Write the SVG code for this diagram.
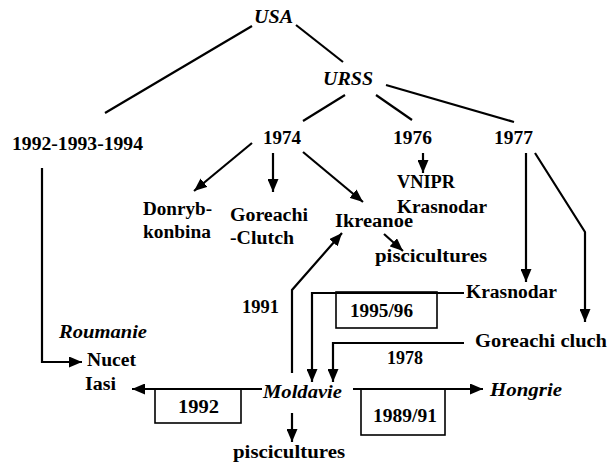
<svg xmlns="http://www.w3.org/2000/svg" width="609" height="466" viewBox="0 0 609 466" font-family="Liberation Serif, DejaVu Serif, serif">
<style>
text{font-family:'Liberation Serif','DejaVu Serif',serif;font-weight:700;font-size:18px;fill:#000}
.i{font-style:italic}
.c{fill:none;stroke:#000;stroke-width:2.2}
.b{fill:none;stroke:#000;stroke-width:1.6}
.a{marker-end:url(#ah)}
</style>
<defs>
<marker id="ah" markerUnits="userSpaceOnUse" markerWidth="13" markerHeight="11" refX="13" refY="5.5" orient="auto">
<path d="M0,0 L13,5.5 L0,11 z" fill="#000"/>
</marker>
</defs>
<rect width="609" height="466" fill="#fff"/>
<g id="connectors">
<line class="c" x1="252" y1="26" x2="105" y2="113"/>
<line class="c" x1="296" y1="25" x2="343" y2="62"/>
<line class="c" x1="345" y1="95" x2="303" y2="121"/>
<line class="c" x1="376" y1="95" x2="412" y2="120"/>
<line class="c" x1="386" y1="85" x2="514" y2="122"/>
<line class="c a" x1="252" y1="143" x2="194" y2="191"/>
<line class="c a" x1="273" y1="153" x2="273" y2="192"/>
<line class="c a" x1="303" y1="152" x2="363" y2="202"/>
<line class="c a" x1="423" y1="153" x2="423" y2="173"/>
<line class="c a" x1="526" y1="153" x2="526" y2="282"/>
<polyline class="c a" points="535,153 585,232 585,322"/>
<line class="c a" x1="384" y1="234" x2="403" y2="251"/>
<polyline class="c a" points="292,373 292,290 342,233"/>
<polyline class="c a" points="464,293 312,293 312,382"/>
<polyline class="c a" points="464,343 333,343 333,382"/>
<polyline class="c a" points="42,168 42,362 82,362"/>
<line class="c a" x1="262" y1="389" x2="132" y2="389"/>
<line class="c a" x1="353" y1="389" x2="483" y2="389"/>
<line class="c a" x1="292" y1="413" x2="292" y2="442"/>
</g>
<g id="usa"><text class="i" x="254" y="23" textLength="39" lengthAdjust="spacingAndGlyphs">USA</text></g>
<g id="urss"><text class="i" x="323" y="85" textLength="50" lengthAdjust="spacingAndGlyphs">URSS</text></g>
<g id="y1992-94"><text x="12" y="150" textLength="131" lengthAdjust="spacingAndGlyphs">1992-1993-1994</text></g>
<g id="y1974"><text x="263" y="144" textLength="38" lengthAdjust="spacingAndGlyphs">1974</text></g>
<g id="y1976"><text x="393" y="144" textLength="39" lengthAdjust="spacingAndGlyphs">1976</text></g>
<g id="y1977"><text x="494" y="144" textLength="39" lengthAdjust="spacingAndGlyphs">1977</text></g>
<g id="donryb"><text x="143" y="215" textLength="69" lengthAdjust="spacingAndGlyphs">Donryb-</text><text x="143" y="238" textLength="68" lengthAdjust="spacingAndGlyphs">konbina</text></g>
<g id="goreachi-clutch"><text x="230" y="221" textLength="78" lengthAdjust="spacingAndGlyphs">Goreachi</text><text x="230" y="244" textLength="64" lengthAdjust="spacingAndGlyphs">-Clutch</text></g>
<g id="ikreanoe"><text x="335" y="227" textLength="78" lengthAdjust="spacingAndGlyphs">Ikreanoe</text></g>
<g id="vnipr"><text x="397" y="188" textLength="58" lengthAdjust="spacingAndGlyphs">VNIPR</text><text x="397" y="213" textLength="90" lengthAdjust="spacingAndGlyphs">Krasnodar</text></g>
<g id="piscicultures1"><text x="375" y="262" textLength="112" lengthAdjust="spacingAndGlyphs">piscicultures</text></g>
<g id="y1991"><text x="242" y="313" textLength="37" lengthAdjust="spacingAndGlyphs">1991</text></g>
<g id="box199596"><rect class="b" x="336" y="292" width="101" height="36"/><text x="350" y="317" textLength="63" lengthAdjust="spacingAndGlyphs">1995/96</text></g>
<g id="krasnodar"><text x="466" y="298" textLength="91" lengthAdjust="spacingAndGlyphs">Krasnodar</text></g>
<g id="goreachi-cluch"><text x="475" y="347" textLength="132" lengthAdjust="spacingAndGlyphs">Goreachi cluch</text></g>
<g id="y1978"><text x="387" y="364" textLength="36" lengthAdjust="spacingAndGlyphs">1978</text></g>
<g id="roumanie"><text class="i" x="59" y="338" textLength="88" lengthAdjust="spacingAndGlyphs">Roumanie</text><text x="87" y="366" textLength="49" lengthAdjust="spacingAndGlyphs">Nucet</text><text x="85" y="390" textLength="31" lengthAdjust="spacingAndGlyphs">Iasi</text></g>
<g id="box1992"><rect class="b" x="155" y="389" width="86" height="34"/><text x="178" y="413" textLength="41" lengthAdjust="spacingAndGlyphs">1992</text></g>
<g id="moldavie"><text class="i" x="263" y="398" textLength="79" lengthAdjust="spacingAndGlyphs">Moldavie</text></g>
<g id="box198991"><rect class="b" x="361" y="389" width="84" height="46"/><text x="373" y="422" textLength="64" lengthAdjust="spacingAndGlyphs">1989/91</text></g>
<g id="hongrie"><text class="i" x="490" y="396" textLength="72" lengthAdjust="spacingAndGlyphs">Hongrie</text></g>
<g id="piscicultures2"><text x="233" y="458" textLength="112" lengthAdjust="spacingAndGlyphs">piscicultures</text></g>
</svg>
